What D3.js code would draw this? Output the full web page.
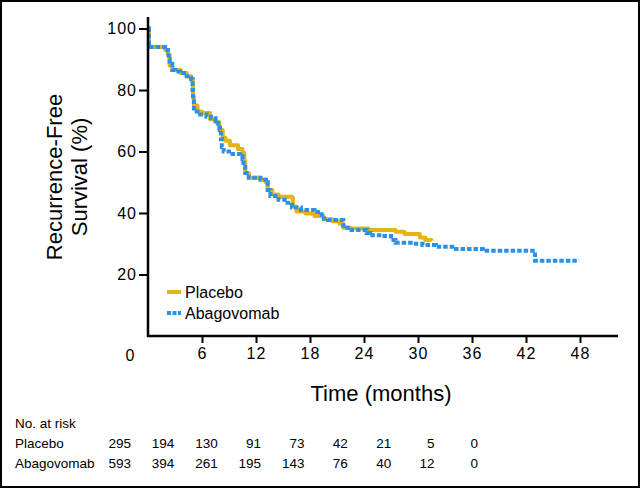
<!DOCTYPE html>
<html>
<head>
<meta charset="utf-8">
<script src="https://cdn.jsdelivr.net/npm/d3@7/dist/d3.min.js"></script>
<style>
  html, body { margin: 0; padding: 0; background: #fff; }
  svg { display: block; font-family: "Liberation Sans", Arial, Helvetica, sans-serif; }
</style>
</head>
<body>
<svg id="chart" width="640" height="488"></svg>
<script>
// ---- Data ----
const seriesNames = ["Placebo", "Abagovomab"];
const seriesColors = ["#E2B512", "#2B90E8"];

const placeboTimes = [0, 0.1, 1.3, 1.9, 2.2, 2.4, 2.7, 3.6, 4.3, 4.8, 5.0, 5.1, 5.5, 6.0, 6.9, 7.5, 7.9, 8.3, 8.6, 9.1, 10.0, 10.5, 10.7, 10.8, 11.2, 12.5, 13.1, 13.3, 13.8, 14.5, 16.0, 16.1, 16.5, 17.5, 18.5, 19.5, 20.5, 21.3, 21.7, 22.5, 24.5, 27.5, 28.5, 30.2, 30.8, 31.5];
const placeboSurv  = [100, 94, 94, 93, 91.5, 88, 86.5, 85.5, 84.5, 83.5, 78, 75, 73, 72.5, 70.5, 69.5, 67, 64.5, 63.5, 62, 60.8, 59.5, 57, 53, 51.5, 50.8, 50, 47.5, 46, 45.3, 45, 42, 40.5, 39.8, 39, 38, 37.3, 36.5, 35.2, 35, 34.5, 33.9, 33.2, 32, 31.2, 31];

const abagoTimes = [0, 0.1, 1.3, 1.9, 2.2, 2.3, 2.4, 2.7, 3.0, 3.6, 4.3, 4.8, 4.95, 5.0, 5.1, 5.4, 5.8, 6.5, 7.0, 7.5, 7.8, 8.0, 8.1, 8.2, 8.4, 9.0, 10.2, 10.5, 10.6, 10.8, 11.2, 12.5, 13.1, 13.3, 13.6, 14.5, 15.5, 16.0, 17.0, 18.5, 19.3, 20.0, 21.7, 22.2, 24.3, 24.7, 26.0, 27.0, 27.5, 29.5, 30.5, 32.0, 33.8, 37.2, 43.0, 47.9];
const abagoSurv  = [100, 94, 94, 93, 92, 90, 88.5, 86.5, 86, 85.5, 84.5, 83.5, 80, 77, 74, 73, 72, 71.3, 70.8, 70, 69, 67, 64, 61.5, 60, 59.2, 58.5, 57.5, 55, 53, 51.5, 50.8, 50, 47.5, 45.5, 44.3, 43.3, 41.8, 41, 40.3, 38.2, 37.7, 35.2, 34.5, 33.5, 32.8, 32.5, 31.2, 30.3, 30, 29.6, 29, 28.3, 27.7, 24.5, 24.5];

const xTicks = [6, 12, 18, 24, 30, 36, 42, 48];
const yTicks = [20, 40, 60, 80, 100];
const riskTimes = [0, 6, 12, 18, 24, 30, 36, 42, 48];
const riskPlacebo = [295, 194, 130, 91, 73, 42, 21, 5, 0];
const riskAbago = [593, 394, 261, 195, 143, 76, 40, 12, 0];

// ---- Drawing ----
const svg = d3.select("#chart");

// outer frame
svg.append("rect").attr("x", 1).attr("y", 1).attr("width", 638).attr("height", 486)
  .attr("fill", "none").attr("stroke", "#000").attr("stroke-width", 2);

const x = d3.scaleLinear().domain([0, 48]).range([148, 580]);
const y = d3.scaleLinear().domain([0, 100]).range([336, 28.5]);

// curves
const line = d3.line().x(d => x(d[0])).y(d => y(d[1])).curve(d3.curveStepAfter);
const placeboData = d3.zip(placeboTimes, placeboSurv);
const abagoData = d3.zip(abagoTimes, abagoSurv);

svg.append("path").datum(placeboData).attr("d", line)
  .attr("fill", "none").attr("stroke", seriesColors[0]).attr("stroke-width", 4)
  .attr("stroke-linejoin", "round");
svg.append("path").datum(abagoData).attr("d", line)
  .attr("fill", "none").attr("stroke", seriesColors[1]).attr("stroke-width", 4)
  .attr("stroke-dasharray", "4.5,2");

// y axis
const yAxis = svg.append("g").attr("transform", `translate(${x(0)},0)`)
  .call(d3.axisLeft(y).tickValues(yTicks).tickSize(9).tickPadding(2).tickFormat(d3.format("d")));
yAxis.select(".domain").remove();
yAxis.selectAll(".tick line").attr("stroke", "#000").attr("stroke-width", 2);
yAxis.selectAll(".tick text").attr("font-size", 16).attr("letter-spacing", 1).attr("fill", "#000")
  .attr("font-family", "'Liberation Sans', Arial, sans-serif");
svg.append("line").attr("x1", x(0)).attr("x2", x(0)).attr("y1", 17).attr("y2", y(0) + 1)
  .attr("stroke", "#000").attr("stroke-width", 2.5);

// x axis
const xAxis = svg.append("g").attr("transform", `translate(0,${y(0)})`)
  .call(d3.axisBottom(x).tickValues(xTicks).tickSize(7).tickPadding(5).tickFormat(d3.format("d")));
xAxis.select(".domain").remove();
xAxis.selectAll(".tick line").attr("stroke", "#000").attr("stroke-width", 2);
xAxis.selectAll(".tick text").attr("font-size", 16).attr("letter-spacing", 1).attr("fill", "#000")
  .attr("font-family", "'Liberation Sans', Arial, sans-serif");
svg.append("line").attr("x1", x(0) - 1).attr("x2", 618).attr("y1", y(0)).attr("y2", y(0))
  .attr("stroke", "#000").attr("stroke-width", 2.5);

// corner 0
svg.append("text").attr("x", 130).attr("y", 361).attr("text-anchor", "middle")
  .attr("font-size", 16).text("0");

// axis titles
svg.append("text").attr("x", 381).attr("y", 401).attr("text-anchor", "middle")
  .attr("font-size", 22).text("Time (months)");
const yt = svg.append("text").attr("transform", "translate(62,177) rotate(-90)")
  .attr("text-anchor", "middle").attr("font-size", 22);
yt.append("tspan").attr("x", 0).attr("y", 0).text("Recurrence-Free");
yt.append("tspan").attr("x", 0).attr("y", 25).text("Survival (%)");

// legend
const legend = svg.append("g");
seriesNames.forEach((name, i) => {
  const ly = 292 + i * 21;
  legend.append("line").attr("x1", 167).attr("x2", 181).attr("y1", ly).attr("y2", ly)
    .attr("stroke", seriesColors[i]).attr("stroke-width", 4)
    .attr("stroke-dasharray", i === 1 ? "4,1.5" : null);
  legend.append("text").attr("x", 185).attr("y", ly + 6).attr("font-size", 16).text(name);
});

// risk table
const rx = d3.scaleLinear().domain([0, 48]).range([131, 478]);
svg.append("text").attr("x", 15).attr("y", 428).attr("font-size", 13.5).text("No. at risk");
[[seriesNames[0], riskPlacebo], [seriesNames[1], riskAbago]].forEach(([name, vals], i) => {
  const ry = 448 + i * 20;
  svg.append("text").attr("x", 15).attr("y", ry).attr("font-size", 13.5).text(name);
  svg.append("g").selectAll("text").data(vals).join("text")
    .attr("x", (d, j) => rx(riskTimes[j])).attr("y", ry)
    .attr("text-anchor", "end").attr("font-size", 13.5).text(d => d);
});
</script>
</body>
</html>
